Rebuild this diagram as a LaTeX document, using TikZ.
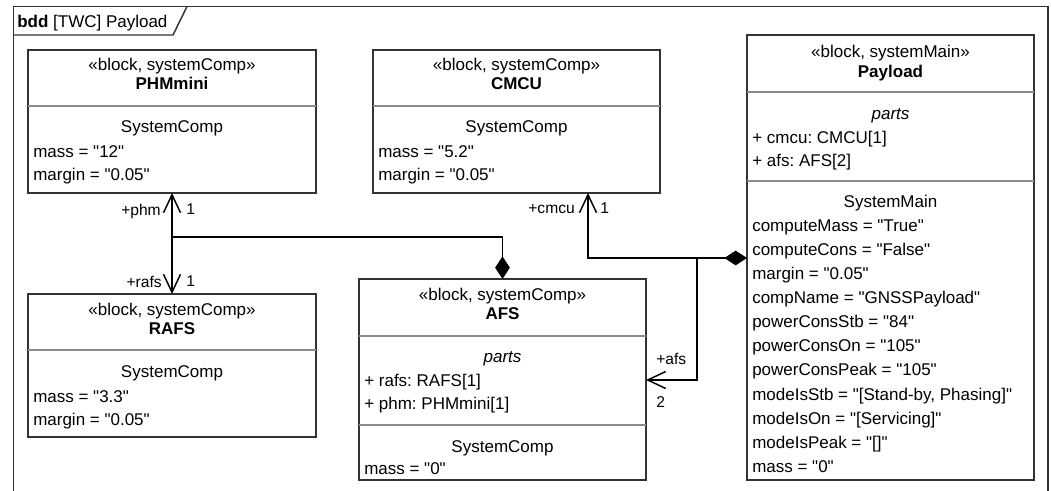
\documentclass[tikz,border=0pt]{standalone}
\usepackage{fontspec}
\setmainfont{Liberation Sans}[Ligatures=TeXOff]
\usetikzlibrary{arrows.meta,calc}
\frenchspacing
\definecolor{edge}{HTML}{333333}
\definecolor{sepc}{HTML}{8C8C8C}
\tikzset{
  blockbox/.style={draw=edge, line width=1.1pt, rectangle, inner sep=0pt, outer sep=0pt, anchor=north west},
  sepline/.style={draw=sepc, line width=1.1pt},
  ct/.style={anchor=base, inner sep=0pt, font=\fontsize{12.75}{15}\selectfont},
  ctb/.style={ct, font=\fontsize{12.75}{15}\selectfont\bfseries},
  cti/.style={ct, font=\fontsize{12.75}{15}\selectfont\itshape},
  lt/.style={anchor=base west, inner sep=0pt, font=\fontsize{12.75}{15}\selectfont},
  role/.style={inner sep=0pt, font=\fontsize{11.7}{14}\selectfont},
  conn/.style={draw=black, line width=1.1pt},
  barb/.style={-{Straight Barb[length=13.5pt,width=12.75pt,line width=1.1pt]}},
  diam/.style={{Diamond[length=17pt,width=11pt]}-},
  diambarb/.style={{Diamond[length=17pt,width=11pt]}-{Straight Barb[length=13.5pt,width=12.75pt,line width=1.1pt]}},
}
\begin{document}
\frenchspacing
\begin{tikzpicture}[x=0.75pt,y=-0.75pt]
\useasboundingbox (0,0) rectangle (1051,490);
% frame
\coordinate (fbl) at (13.5,492);
\coordinate (ftl) at (13.5,6.5);
\coordinate (ftr) at (1048,6.5);
\coordinate (fbr) at (1048,492);
\draw[draw=edge, line width=1.1pt] (fbl) -- (ftl) -- (ftr) -- (fbr);
\draw[draw=edge, line width=1.1pt] (13.5,35) -- (173,35) -- (187,6.5);
\node[anchor=base west, inner sep=0pt, font=\fontsize{12.75}{15}\selectfont] (title) at (17,27) {\textbf{bdd} [TWC] Payload};

% PHMmini
\node[blockbox, minimum width=216pt, minimum height=107.25pt] (phm) at (28,50) {};
\draw[sepline] (28,106) -- (316,106);
\node[ct] (phm-s) at (172,70) {«block, systemComp»};
\node[ctb] (phm-n) at (172,89) {PHMmini};
\node[ct] (phm-c) at (172,132) {SystemComp};
\node[lt] (phm-a1) at (33,157) {mass = "12"};
\node[lt] (phm-a2) at (33,180) {margin = "0.05"};

% RAFS
\node[blockbox, minimum width=216pt, minimum height=107.25pt] (rafs) at (28,294) {};
\draw[sepline] (28,350) -- (316,350);
\node[ct] (rafs-s) at (172,315) {«block, systemComp»};
\node[ctb] (rafs-n) at (172,334) {RAFS};
\node[ct] (rafs-c) at (172,377) {SystemComp};
\node[lt] (rafs-a1) at (33,402) {mass = "3.3"};
\node[lt] (rafs-a2) at (33,425) {margin = "0.05"};

% CMCU
\node[blockbox, minimum width=215.25pt, minimum height=107.25pt] (cmcu) at (373,50) {};
\draw[sepline] (373,106) -- (660,106);
\node[ct] (cmcu-s) at (516.5,70) {«block, systemComp»};
\node[ctb] (cmcu-n) at (516.5,89) {CMCU};
\node[ct] (cmcu-c) at (516.5,132) {SystemComp};
\node[lt] (cmcu-a1) at (378,157) {mass = "5.2"};
\node[lt] (cmcu-a2) at (378,180) {margin = "0.05"};

% AFS
\node[blockbox, minimum width=215.25pt, minimum height=150.75pt] (afs) at (359,279) {};
\draw[sepline] (359,336) -- (646,336);
\draw[sepline] (359,425) -- (646,425);
\node[ct] (afs-s) at (502.5,300) {«block, systemComp»};
\node[ctb] (afs-n) at (502.5,319) {AFS};
\node[cti] (afs-p) at (502.5,362) {parts};
\node[lt] (afs-p1) at (364,386) {+ rafs: RAFS[1]};
\node[lt] (afs-p2) at (364,409) {+ phm: PHMmini[1]};
\node[ct] (afs-c) at (502.5,452) {SystemComp};
\node[lt] (afs-a1) at (364,474) {mass = "0"};

% Payload
\node[blockbox, minimum width=215.25pt, minimum height=333.75pt] (pay) at (747,35) {};
\draw[sepline] (747,92) -- (1034,92);
\draw[sepline] (747,181) -- (1034,181);
\node[ct] (pay-s) at (890.5,57) {«block, systemMain»};
\node[ctb] (pay-n) at (890.5,77) {Payload};
\node[cti] (pay-p) at (890.5,119) {parts};
\node[lt] (pay-p1) at (752,143) {+ cmcu: CMCU[1]};
\node[lt] (pay-p2) at (752,166) {+ afs: AFS[2]};
\node[ct] (pay-c) at (890.5,207) {SystemMain};
\node[lt] (pay-a1) at (752,231) {computeMass = "True"};
\node[lt] (pay-a2) at (752,255) {computeCons = "False"};
\node[lt] (pay-a3) at (752,279) {margin = "0.05"};
\node[lt] (pay-a4) at (752,303) {compName = "GNSSPayload"};
\node[lt] (pay-a5) at (752,327) {powerConsStb = "84"};
\node[lt] (pay-a6) at (752,351) {powerConsOn = "105"};
\node[lt] (pay-a7) at (752,375) {powerConsPeak = "105"};
\node[lt] (pay-a8) at (752,400) {modeIsStb = "[Stand-by, Phasing]"};
\node[lt] (pay-a9) at (752,424) {modeIsOn = "[Servicing]"};
\node[lt] (pay-a10) at (752,448) {modeIsPeak = "[]"};
\node[lt] (pay-a11) at (752,472) {mass = "0"};

% connectors
\coordinate (j1) at (172,237);
\coordinate (j2) at (588,258);
\coordinate (j3) at (697,258);
\coordinate (j4) at (697,380);
\draw[conn, diam] (afs.north) -- (afs.north |- j1) -- (j1);
\draw[conn, barb] (j1) -- (phm.south);
\draw[conn, barb] (j1) -- (rafs.north);
\draw[conn, diambarb] (pay.west |- j2) -- (j2) -- (cmcu.south -| j2);
\draw[conn, barb] (j3) -- (j4) -- (afs.east |- j4);

% role labels
\node[role, anchor=east] (l-phm) at (161,211) {+phm};
\node[role, anchor=west] (m-phm) at (186,209) {1};
\node[role, anchor=east] (l-rafs) at (162,282) {+rafs};
\node[role, anchor=west] (m-rafs) at (186,281) {1};
\node[role, anchor=east] (l-cmcu) at (575,209) {+cmcu};
\node[role, anchor=west] (m-cmcu) at (600,208) {1};
\node[role, anchor=west] (l-afs) at (656,359) {+afs};
\node[role, anchor=west] (m-afs) at (656,402) {2};
\end{tikzpicture}
\end{document}
